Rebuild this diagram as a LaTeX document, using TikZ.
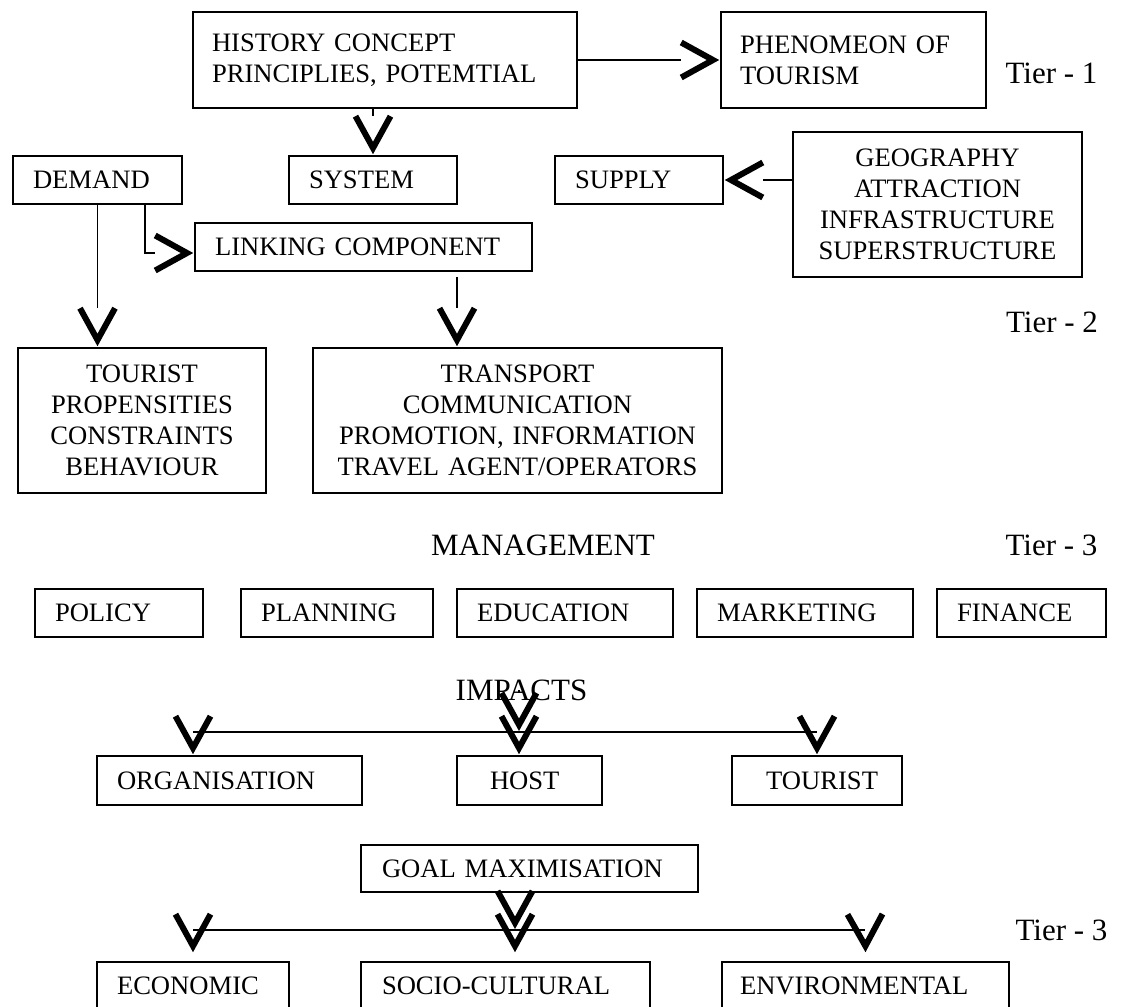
\documentclass[tikz,border=0pt]{standalone}
\usepackage{fontspec}
\setmainfont{Liberation Serif}
\usetikzlibrary{arrows.meta}
\newcommand\bxfont{\fontsize{26.6pt}{31pt}\selectfont}
\newcommand\tierfont{\fontsize{31pt}{36pt}\selectfont}
% open chevron, the line stops at its back
\pgfdeclarearrow{
  name = Chevron,
  defaults = {length = 39pt, width = 35pt, line width = 6pt},
  setup code = {
    \pgfarrowssettipend{0pt}
    \pgfarrowssetlineend{-\pgfarrowlength}
    \pgfarrowssetbackend{-\pgfarrowlength}
    \pgfarrowssetvisualbackend{-\pgfarrowlength}
    \pgfarrowssavethe\pgfarrowlength
    \pgfarrowssavethe\pgfarrowwidth
    \pgfarrowssavethe\pgfarrowlinewidth
  },
  drawing code = {
    \pgfsetlinewidth{\pgfarrowlinewidth}
    \pgfsetmiterjoin
    \pgfsetbuttcap
    \pgfpathmoveto{\pgfqpoint{-\pgfarrowlength}{.5\pgfarrowwidth}}
    \pgfpathlineto{\pgfqpoint{-1.2\pgfarrowlinewidth}{0pt}}
    \pgfpathlineto{\pgfqpoint{-\pgfarrowlength}{-.5\pgfarrowwidth}}
    \pgfusepathqstroke
  },
  parameters = {\the\pgfarrowlength,\the\pgfarrowwidth,\the\pgfarrowlinewidth},
}
\tikzset{
  box/.style={draw, line width=1.6pt, inner xsep=20pt, inner ysep=0pt, align=left, font=\bxfont},
  cbox/.style={box, align=center},
  tier/.style={font=\tierfont, inner sep=0pt},
  conn/.style={line width=1.2pt},
  vee/.style={conn, -{Chevron}},
  bare/.style={conn, draw=white, -{Chevron[color=black]}}
}
\begin{document}
\begin{tikzpicture}[x=1pt, y=-1pt]
\useasboundingbox (0,0) rectangle (1125,1007);
% tier 1
\node[box, text width=346pt, minimum height=96pt, inner xsep=19pt] (hist) at (385,60) {HISTORY CONCEPT\\PRINCIPLIES, POTEMTIAL};
\node[box, text width=227pt, minimum height=96pt, inner xsep=19pt] (phen) at (853.5,60) {PHENOMEON OF\\TOURISM};
\node[tier] (tier1) at (1051.5,73) {Tier - 1};
% tier 2
\node[box, text width=129pt, minimum height=48pt] (demand) at (97.5,180) {DEMAND};
\node[box, text width=128pt, minimum height=48pt] (system) at (373,180) {SYSTEM};
\node[box, text width=128pt, minimum height=48pt] (supply) at (639,180) {SUPPLY};
\node[cbox, text width=249pt, minimum height=145pt] (geo) at (937.5,204.5) {GEOGRAPHY\\ATTRACTION\\INFRASTRUCTURE\\SUPERSTRUCTURE};
\node[box, text width=297pt, minimum height=48pt] (link) at (363.5,247) {LINKING COMPONENT};
\node[tier] (tier2) at (1052,322) {Tier - 2};
\node[cbox, text width=208pt, minimum height=145pt] (tourist) at (142,420.5) {TOURIST\\PROPENSITIES\\CONSTRAINTS\\BEHAVIOUR};
\node[cbox, text width=379pt, minimum height=145pt, inner xsep=15pt] (transport) at (517.5,420.5) {TRANSPORT\\COMMUNICATION\\PROMOTION, INFORMATION\\TRAVEL AGENT/OPERATORS};
% tier 3
\node[tier] (mgmt) at (543,545) {MANAGEMENT};
\node[tier] (tier3) at (1051.5,545) {Tier - 3};
\node[box, text width=128pt, minimum height=48pt] (policy) at (119,613) {POLICY};
\node[box, text width=152pt, minimum height=48pt] (planning) at (337,613) {PLANNING};
\node[box, text width=176pt, minimum height=48pt] (education) at (565,613) {EDUCATION};
\node[box, text width=176pt, minimum height=48pt] (marketing) at (805,613) {MARKETING};
\node[box, text width=129pt, minimum height=48pt] (finance) at (1021.5,613) {FINANCE};
\node[tier] (impacts) at (521.5,690) {IMPACTS};
\node[box, text width=225pt, minimum height=49pt] (org) at (229.5,780.5) {ORGANISATION};
\node[box, text width=79pt, minimum height=49pt, inner xsep=33pt] (host) at (529.5,780.5) {HOST};
\node[box, text width=122pt, minimum height=49pt, inner xsep=24pt, align=right] (tourist2) at (817,780.5) {TOURIST};
\node[box, text width=295pt, minimum height=47pt, inner xsep=21pt] (goal) at (529.5,868.5) {GOAL MAXIMISATION};
\node[tier] (tier3b) at (1061.5,930) {Tier - 3};
\node[box, text width=152pt, minimum height=48pt] (econ) at (193,986) {ECONOMIC};
\node[box, text width=247pt, minimum height=48pt, inner xsep=21pt] (socio) at (505.5,986) {SOCIO-CULTURAL};
\node[box, text width=251pt, minimum height=48pt, inner xsep=18pt] (env) at (865.5,986) {ENVIRONMENTAL};

\draw[vee] (hist) -- (phen);
\draw[vee] (hist.south -| system.north) -- (system.north);
\draw[vee] ([xshift=47.5pt]demand.south) |- ([yshift=-6pt]link.west);
\draw[vee] (demand.south) -- (demand.south |- tourist.north);
\draw[vee] ([xshift=93.5pt,yshift=-5pt]link.south) -- ([xshift=-60.5pt]transport.north);
\draw[vee] (geo.west |- supply.east) -- (supply.east);

\coordinate (busa) at (193,732);
\coordinate (busb) at (519,732);
\coordinate (busc) at (817,732);
\draw[conn] (busa) -- (busc);
\draw[vee] (impacts -| busb) -- (busb);
\draw[bare] ([yshift=15pt]busa) -- (busa |- org.north);
\draw[bare] ([yshift=15pt]busb) -- (busb |- host.north);
\draw[bare] ([yshift=15pt]busc) -- (busc |- tourist2.north);

\coordinate (busd) at (193,930);
\coordinate (buse) at (515,930);
\coordinate (busf) at (865,930);
\draw[conn] (busd) -- (busf);
\draw[vee] (goal.south -| buse) -- (buse);
\draw[bare] ([yshift=15pt]busd) -- ([yshift=8pt]econ.north);
\draw[bare] ([yshift=15pt]buse) -- ([xshift=9.5pt,yshift=8pt]socio.north);
\draw[bare] ([yshift=15pt]busf) -- ([yshift=8pt]env.north);
\end{tikzpicture}
\end{document}
